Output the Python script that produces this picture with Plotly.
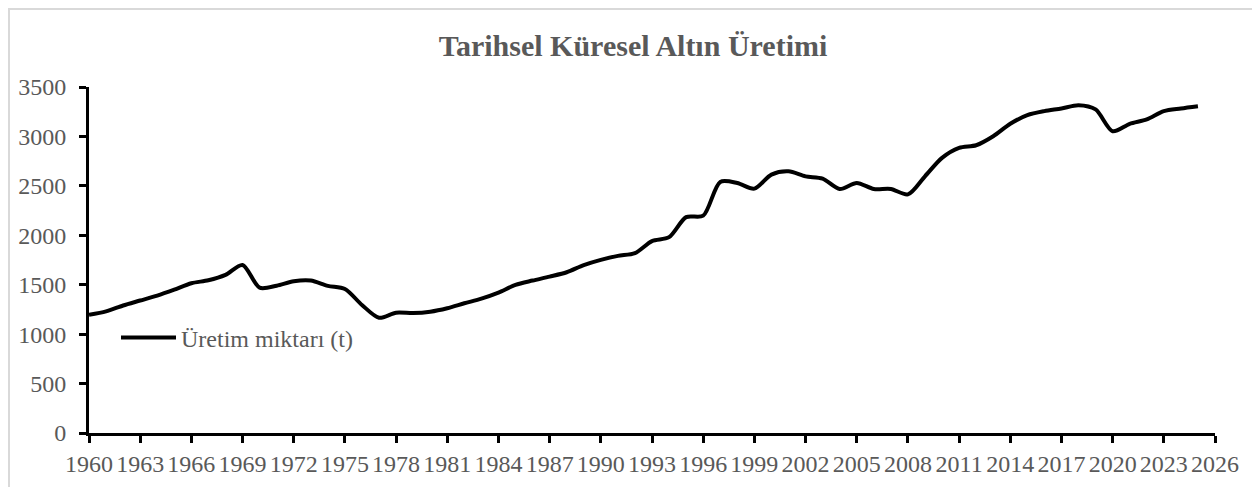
import plotly.graph_objects as go

years = list(range(1960, 2026))
production = [1195, 1230, 1290, 1340, 1390, 1450, 1515, 1545, 1600, 1700,
              1470, 1490, 1535, 1542, 1488, 1457, 1295, 1166, 1217, 1213,
              1227, 1262, 1312, 1359, 1420, 1498, 1542, 1582, 1626, 1698,
              1751, 1792, 1819, 1941, 1981, 2184, 2198, 2540, 2529, 2472,
              2614, 2647, 2596, 2573, 2468, 2529, 2468, 2468, 2414, 2597,
              2783, 2884, 2911, 3002, 3128, 3215, 3256, 3283, 3316, 3273,
              3053, 3128, 3172, 3256, 3283, 3306]
x_ticks = list(range(1960, 2027, 3))
y_ticks = [0, 500, 1000, 1500, 2000, 2500, 3000, 3500]

# page body has an 8px margin, so the figure is offset by 8px
OFF = 8
W, H = 1260 - OFF, 487 - OFF
L, R, T, B = 89 - OFF, 45, 87 - OFF, 54
pw, ph = W - L - R, H - T - B

def px(xs):
    """screen x -> paper x"""
    return (xs - OFF - L) / pw

def py(ys):
    """screen y -> paper y"""
    return (H - B - (ys - OFF)) / ph

font_family = "Liberation Serif, Times New Roman, serif"
grey = "#595959"

fig = go.Figure()
fig.add_trace(go.Scatter(
    x=years, y=production, mode="lines", name="Üretim miktarı (t)",
    line=dict(color="black", width=4, shape="spline", smoothing=0.8),
))

fig.update_layout(
    width=W, height=H,
    margin=dict(l=L, r=R, t=T, b=B),
    paper_bgcolor="white", plot_bgcolor="white",
    title=dict(text="<b>Tarihsel Küresel Altın Üretimi</b>", x=(633 - OFF) / W, xref="container",
               y=1 - (45 - OFF) / H, yref="container", yanchor="middle", xanchor="center",
               automargin=False,
               font=dict(family=font_family, size=30, color=grey)),
    showlegend=True,
    legend=dict(x=px(116), y=py(338), xanchor="left", yanchor="middle",
                bgcolor="rgba(0,0,0,0)", itemwidth=55,
                font=dict(family=font_family, size=24, color=grey)),
    xaxis=dict(range=[1960, 2026], tickvals=x_ticks, ticktext=[str(v) for v in x_ticks],
               automargin=False,
               showgrid=False, zeroline=False, showline=True, linecolor="black", linewidth=3,
               ticks="outside", ticklen=7, tickwidth=3, tickcolor="black",
               tickfont=dict(family=font_family, size=24, color=grey), ticklabelstandoff=0),
    yaxis=dict(range=[0, 3500], tickvals=y_ticks, automargin=False,
               showgrid=False, zeroline=False, showline=True, linecolor="black", linewidth=3,
               ticks="outside", ticklen=7, tickwidth=3, tickcolor="black",
               tickfont=dict(family=font_family, size=24, color=grey), ticklabelstandoff=8),
    shapes=[dict(type="rect", xref="paper", yref="paper",
                 x0=px(9), x1=px(1255), y0=py(500), y1=py(9),
                 line=dict(color="#d9d9d9", width=2), fillcolor="rgba(0,0,0,0)", layer="below")],
)

fig.write_html("out.html")
